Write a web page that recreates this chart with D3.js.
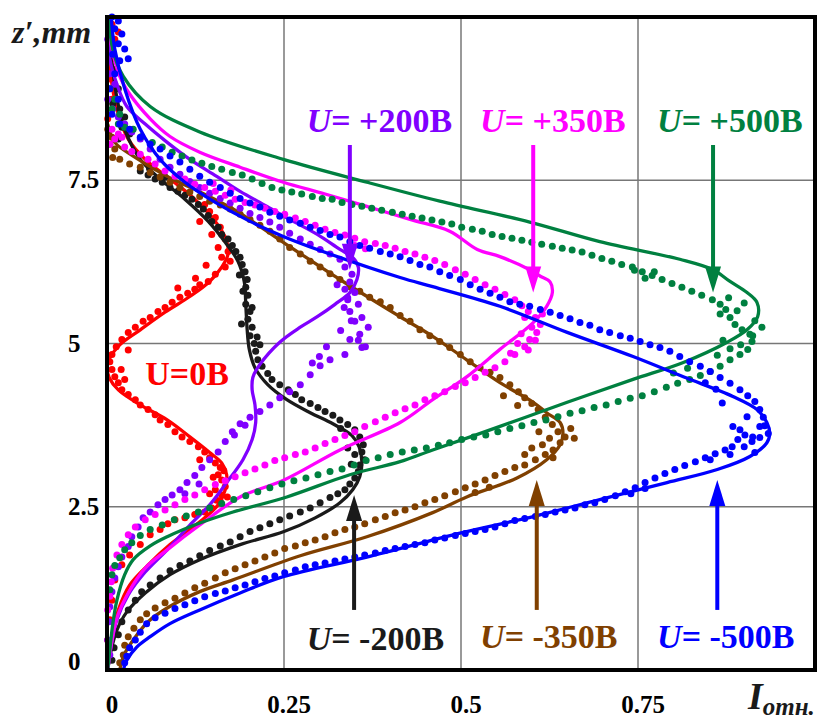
<!DOCTYPE html>
<html>
<head>
<meta charset="utf-8">
<script src="https://cdn.jsdelivr.net/npm/d3@7"></script>
<style>
  body { margin: 0; background: #fff; }
</style>
</head>
<body>
<svg width="832" height="720"></svg>
<script>
/*global d3 */

// ticks
var xTicks = [0, 0.25, 0.5, 0.75];
var xTickLabels = ["0", "0.25", "0.5", "0.75"];
var yTicks = [0, 2.5, 5, 7.5];
var yTickLabels = ["0", "2.5", "5", "7.5"];

// fitted curves, [I, z]
var redLine = [[0.001,0],[0.006,0.46],[0.016,0.92],[0.032,1.30],[0.061,1.64],[0.089,1.92],[0.117,2.15],[0.138,2.33],[0.157,2.53],[0.167,2.76],[0.169,2.99],[0.162,3.17],[0.145,3.33],[0.117,3.57],[0.085,3.83],[0.047,4.06],[0.016,4.29],[0.003,4.48],[0.0,4.63],[0.004,4.78],[0.018,4.98],[0.047,5.21],[0.082,5.48],[0.117,5.72],[0.145,5.95],[0.162,6.17],[0.171,6.37],[0.168,6.60],[0.153,6.87],[0.124,7.21],[0.089,7.52],[0.054,7.82],[0.030,8.13],[0.016,8.51],[0.007,8.97],[0.003,9.51],[0.001,9.97]];
var blackLine = [[0.001,0],[0.006,0.31],[0.014,0.61],[0.028,0.89],[0.054,1.18],[0.089,1.46],[0.131,1.69],[0.188,1.92],[0.250,2.12],[0.294,2.33],[0.329,2.56],[0.347,2.76],[0.357,2.96],[0.360,3.19],[0.356,3.42],[0.346,3.59],[0.319,3.77],[0.287,3.94],[0.254,4.14],[0.227,4.37],[0.209,4.63],[0.201,4.91],[0.198,5.21],[0.196,5.60],[0.194,5.94],[0.185,6.26],[0.167,6.55],[0.143,6.87],[0.110,7.21],[0.075,7.52],[0.047,7.82],[0.025,8.28],[0.013,8.82],[0.006,9.43],[0.003,9.97]];
var purpleLine = [[0.001,0],[0.006,0.38],[0.014,0.77],[0.030,1.15],[0.054,1.50],[0.085,1.84],[0.117,2.22],[0.145,2.53],[0.169,2.87],[0.192,3.22],[0.205,3.53],[0.210,3.79],[0.209,4.06],[0.205,4.29],[0.206,4.48],[0.216,4.68],[0.244,5.02],[0.273,5.25],[0.297,5.41],[0.322,5.60],[0.343,5.78],[0.353,5.98],[0.355,6.17],[0.347,6.32],[0.329,6.44],[0.297,6.67],[0.258,6.90],[0.226,7.10],[0.188,7.33],[0.155,7.56],[0.117,7.82],[0.085,8.08],[0.054,8.36],[0.028,8.63],[0.014,8.97],[0.004,9.36],[0.003,9.97]];
var magentaLine = [[0.001,0],[0.006,0.38],[0.014,0.80],[0.030,1.18],[0.054,1.56],[0.085,1.84],[0.131,2.22],[0.188,2.65],[0.250,2.91],[0.329,3.37],[0.414,3.79],[0.460,4.14],[0.508,4.49],[0.555,4.91],[0.602,5.32],[0.621,5.57],[0.629,5.78],[0.626,5.94],[0.612,6.03],[0.597,6.13],[0.555,6.33],[0.523,6.44],[0.484,6.72],[0.428,6.90],[0.367,7.10],[0.308,7.29],[0.249,7.47],[0.188,7.70],[0.131,7.93],[0.089,8.17],[0.061,8.44],[0.032,8.82],[0.018,9.09],[0.007,9.51],[0.001,9.97]];
var brownLine = [[0.018,0],[0.024,0.23],[0.037,0.46],[0.058,0.74],[0.085,0.95],[0.131,1.20],[0.178,1.38],[0.273,1.75],[0.367,2.04],[0.460,2.41],[0.508,2.65],[0.579,2.94],[0.621,3.22],[0.640,3.45],[0.644,3.63],[0.640,3.79],[0.621,3.94],[0.602,4.10],[0.555,4.40],[0.508,4.75],[0.460,5.11],[0.414,5.41],[0.329,5.98],[0.249,6.55],[0.178,7.06],[0.124,7.36],[0.085,7.56],[0.037,7.87],[0.011,8.08],[0.001,8.36]];
var greenLine = [[0.001,0],[0.004,0.31],[0.008,0.69],[0.014,1.07],[0.025,1.46],[0.037,1.69],[0.061,1.90],[0.085,2.04],[0.131,2.25],[0.178,2.42],[0.254,2.65],[0.343,2.99],[0.414,3.19],[0.460,3.37],[0.555,3.73],[0.650,4.10],[0.743,4.45],[0.814,4.71],[0.876,5.02],[0.904,5.21],[0.919,5.41],[0.918,5.63],[0.904,5.78],[0.880,5.95],[0.856,6.13],[0.809,6.29],[0.696,6.56],[0.597,6.86],[0.470,7.18],[0.367,7.47],[0.249,7.82],[0.131,8.24],[0.061,8.63],[0.023,9.09],[0.008,9.51],[0.003,9.97]];
var blueLine = [[0.023,0],[0.028,0.15],[0.042,0.35],[0.061,0.51],[0.089,0.71],[0.131,0.92],[0.188,1.18],[0.249,1.43],[0.367,1.73],[0.500,2.10],[0.602,2.35],[0.696,2.61],[0.791,2.87],[0.862,3.07],[0.908,3.27],[0.932,3.48],[0.936,3.63],[0.932,3.79],[0.918,3.99],[0.884,4.19],[0.814,4.49],[0.743,4.80],[0.650,5.17],[0.555,5.57],[0.460,5.87],[0.414,6.01],[0.297,6.44],[0.249,6.64],[0.202,6.87],[0.153,7.16],[0.110,7.47],[0.075,7.82],[0.047,8.28],[0.025,8.90],[0.011,9.51],[0.006,10.0]];

// measured points, [I, z]
var redDots = [[0.007,9.89],[0.011,9.66],[0.016,9.77],[0.008,9.36],[0.004,9.05],[0.007,8.74],[0.001,8.44],[0.138,7.13],[0.145,7.02],[0.153,6.93],[0.131,6.87],[0.160,6.78],[0.148,6.67],[0.167,6.60],[0.157,6.47],[0.171,6.41],[0.162,6.32],[0.174,6.26],[0.167,6.17],[0.153,6.06],[0.143,5.95],[0.131,5.90],[0.124,5.83],[0.114,5.77],[0.103,5.71],[0.092,5.63],[0.082,5.55],[0.072,5.49],[0.061,5.40],[0.051,5.34],[0.040,5.25],[0.030,5.17],[0.021,5.06],[0.013,4.95],[0.007,4.83],[0.004,4.72],[0.007,4.60],[0.011,4.49],[0.016,4.40],[0.021,4.29],[0.030,4.22],[0.040,4.14],[0.047,4.06],[0.058,3.99],[0.068,3.91],[0.075,3.83],[0.086,3.76],[0.096,3.65],[0.106,3.57],[0.117,3.50],[0.129,3.42],[0.138,3.34],[0.145,3.25],[0.131,3.22],[0.153,3.17],[0.160,3.10],[0.157,2.99],[0.162,2.91],[0.167,2.81],[0.153,2.76],[0.162,2.68],[0.160,2.58],[0.148,2.48],[0.138,2.42],[0.124,2.38],[0.110,2.33],[0.096,2.30],[0.086,2.24],[0.075,2.15],[0.061,2.07],[0.047,1.92],[0.032,1.76],[0.021,1.61],[0.011,1.38],[0.007,1.07],[0.004,0.77],[0.001,0.46],
  [0.150,2.95],[0.165,3.05],[0.170,2.65],[0.155,2.60],[0.145,2.70],[0.020,4.60],[0.025,4.45],[0.030,4.90],[0.140,6.20],[0.125,6.00],[0.100,5.85]];
var blackDots = [[0.004,9.82],[0.007,9.59],[0.011,9.20],[0.016,8.90],[0.008,8.67],[0.018,8.59],[0.025,8.47],[0.021,8.31],[0.032,8.21],[0.016,8.13],[0.047,7.64],[0.058,7.58],[0.068,7.52],[0.078,7.47],[0.089,7.39],[0.100,7.33],[0.110,7.27],[0.120,7.21],[0.129,7.13],[0.136,7.06],[0.143,6.96],[0.148,6.87],[0.157,6.78],[0.162,6.67],[0.171,6.60],[0.177,6.50],[0.182,6.41],[0.188,6.32],[0.191,6.21],[0.195,6.10],[0.198,5.98],[0.196,5.86],[0.199,5.74],[0.196,5.60],[0.202,5.49],[0.199,5.37],[0.205,5.25],[0.202,5.12],[0.208,5.00],[0.210,4.88],[0.213,4.75],[0.219,4.65],[0.227,4.54],[0.233,4.45],[0.244,4.37],[0.256,4.29],[0.266,4.22],[0.275,4.14],[0.287,4.08],[0.298,4.02],[0.308,3.96],[0.319,3.90],[0.329,3.83],[0.340,3.76],[0.350,3.68],[0.357,3.57],[0.362,3.45],[0.360,3.34],[0.364,3.22],[0.357,3.14],[0.355,3.04],[0.350,2.94],[0.343,2.85],[0.336,2.76],[0.326,2.70],[0.315,2.64],[0.301,2.56],[0.287,2.48],[0.273,2.42],[0.258,2.36],[0.244,2.30],[0.230,2.24],[0.216,2.18],[0.202,2.12],[0.188,2.04],[0.174,1.96],[0.160,1.90],[0.145,1.83],[0.131,1.75],[0.117,1.67],[0.103,1.60],[0.089,1.52],[0.075,1.41],[0.061,1.30],[0.049,1.20],[0.040,1.07],[0.030,0.92],[0.021,0.74],[0.016,0.54],[0.010,0.34],[0.007,0.15],
  [0.190,5.30],[0.205,5.55],[0.192,5.80],[0.212,5.10],[0.216,4.98],[0.187,6.05],[0.340,3.40],[0.350,3.30],[0.345,3.15],[0.330,3.70],[0.060,7.68],[0.082,7.55]];
var purpleDots = [[0.001,9.66],[0.007,9.43],[0.004,9.13],[0.011,8.97],[0.001,8.74],[0.008,8.59],[0.016,8.47],[0.025,8.36],[0.035,8.24],[0.047,8.13],[0.061,7.98],[0.075,7.82],[0.089,7.70],[0.103,7.59],[0.117,7.48],[0.131,7.39],[0.145,7.30],[0.160,7.22],[0.174,7.15],[0.188,7.07],[0.202,6.99],[0.216,6.93],[0.230,6.86],[0.244,6.78],[0.258,6.69],[0.273,6.60],[0.287,6.52],[0.301,6.44],[0.315,6.37],[0.329,6.29],[0.336,6.17],[0.346,6.06],[0.343,5.94],[0.336,5.83],[0.350,5.78],[0.340,5.67],[0.355,5.60],[0.343,5.49],[0.360,5.40],[0.350,5.34],[0.369,5.25],[0.357,5.14],[0.343,5.06],[0.360,4.94],[0.336,4.83],[0.315,4.75],[0.301,4.66],[0.287,4.52],[0.273,4.37],[0.258,4.26],[0.244,4.17],[0.230,4.06],[0.216,3.96],[0.202,3.87],[0.188,3.77],[0.177,3.65],[0.167,3.50],[0.157,3.34],[0.145,3.22],[0.134,3.10],[0.124,2.98],[0.113,2.87],[0.103,2.76],[0.092,2.68],[0.082,2.61],[0.072,2.53],[0.061,2.42],[0.051,2.33],[0.044,2.19],[0.035,2.04],[0.030,1.89],[0.021,1.73],[0.016,1.58],[0.011,1.41],[0.007,1.20],[0.004,0.97],[0.003,0.74],[0.001,0.46],[0.004,0.23],
  [0.335,5.55],[0.345,5.35],[0.330,5.20],[0.355,5.05],[0.365,4.95],[0.340,5.70],[0.325,5.90],[0.300,4.80],[0.310,4.95],[0.290,4.70],[0.180,3.60],[0.195,3.75],[0.130,2.85],[0.110,2.70]];
var magentaDots = [[0.007,8.28],[0.016,8.21],[0.011,8.13],[0.021,8.16],[0.004,8.05],[0.025,8.01],[0.035,7.94],[0.047,7.90],[0.058,7.82],[0.068,7.75],[0.082,7.64],[0.096,7.56],[0.110,7.52],[0.124,7.44],[0.138,7.39],[0.153,7.33],[0.167,7.27],[0.181,7.21],[0.195,7.16],[0.209,7.12],[0.223,7.07],[0.237,7.02],[0.251,6.98],[0.266,6.92],[0.280,6.87],[0.294,6.81],[0.308,6.75],[0.322,6.70],[0.336,6.66],[0.350,6.61],[0.364,6.56],[0.379,6.53],[0.393,6.50],[0.407,6.46],[0.421,6.41],[0.435,6.37],[0.449,6.32],[0.463,6.27],[0.477,6.21],[0.492,6.13],[0.506,6.06],[0.520,5.98],[0.534,5.90],[0.548,5.83],[0.562,5.75],[0.576,5.67],[0.586,5.58],[0.595,5.49],[0.605,5.40],[0.612,5.29],[0.607,5.17],[0.597,5.06],[0.590,4.95],[0.576,4.83],[0.562,4.72],[0.548,4.63],[0.534,4.56],[0.520,4.48],[0.506,4.40],[0.492,4.34],[0.477,4.26],[0.463,4.20],[0.449,4.14],[0.435,4.06],[0.421,4.00],[0.407,3.94],[0.393,3.87],[0.379,3.80],[0.364,3.73],[0.350,3.65],[0.336,3.59],[0.322,3.53],[0.308,3.47],[0.294,3.40],[0.280,3.34],[0.266,3.30],[0.251,3.25],[0.237,3.21],[0.223,3.14],[0.209,3.08],[0.195,3.02],[0.181,2.96],[0.167,2.90],[0.153,2.84],[0.138,2.76],[0.124,2.68],[0.110,2.61],[0.096,2.53],[0.082,2.45],[0.068,2.38],[0.054,2.30],[0.040,2.19],[0.030,2.07],[0.021,1.92],[0.014,1.76],[0.008,1.56],[0.006,1.35],[0.004,1.13],[0.001,0.92],
  [0.590,5.40],[0.600,5.25],[0.585,5.15],[0.605,5.05],[0.595,4.90],[0.580,5.00],[0.615,5.45],[0.570,4.85],[0.350,6.50],[0.365,6.45],[0.150,7.45],[0.175,7.35]];
var brownDots = [[0.001,8.28],[0.007,8.16],[0.004,8.05],[0.011,7.98],[0.008,7.85],[0.018,7.82],[0.032,7.75],[0.047,7.70],[0.061,7.62],[0.075,7.55],[0.089,7.47],[0.103,7.39],[0.117,7.32],[0.131,7.25],[0.145,7.18],[0.160,7.12],[0.174,7.06],[0.188,6.98],[0.202,6.90],[0.216,6.81],[0.230,6.72],[0.244,6.60],[0.258,6.47],[0.273,6.37],[0.287,6.26],[0.301,6.17],[0.315,6.07],[0.329,5.98],[0.343,5.87],[0.357,5.80],[0.371,5.71],[0.386,5.64],[0.400,5.55],[0.414,5.43],[0.428,5.34],[0.442,5.21],[0.456,5.12],[0.470,5.03],[0.484,4.94],[0.499,4.83],[0.513,4.72],[0.527,4.63],[0.541,4.56],[0.555,4.48],[0.569,4.37],[0.581,4.26],[0.590,4.17],[0.600,4.08],[0.609,3.99],[0.619,3.87],[0.629,3.76],[0.637,3.65],[0.647,3.57],[0.640,3.48],[0.630,3.37],[0.619,3.30],[0.605,3.22],[0.590,3.14],[0.576,3.10],[0.562,3.04],[0.548,2.98],[0.534,2.91],[0.520,2.85],[0.506,2.79],[0.492,2.73],[0.477,2.67],[0.463,2.61],[0.449,2.56],[0.435,2.50],[0.421,2.45],[0.407,2.41],[0.393,2.35],[0.379,2.30],[0.364,2.24],[0.350,2.19],[0.336,2.15],[0.322,2.10],[0.308,2.04],[0.294,1.99],[0.280,1.95],[0.266,1.90],[0.251,1.86],[0.237,1.79],[0.223,1.73],[0.209,1.67],[0.195,1.61],[0.181,1.55],[0.167,1.49],[0.153,1.41],[0.138,1.33],[0.124,1.26],[0.110,1.18],[0.096,1.10],[0.082,1.03],[0.068,0.95],[0.056,0.86],[0.047,0.77],[0.038,0.64],[0.030,0.51],[0.025,0.38],[0.023,0.23],[0.018,0.11],
  [0.625,3.55],[0.615,3.45],[0.600,3.40],[0.610,3.65],[0.630,3.25],[0.590,3.30],[0.655,3.70],[0.660,3.55],[0.580,4.05],[0.560,4.20],[0.540,2.80],[0.520,2.72]];
var greenDots = [[0.004,8.90],[0.011,8.74],[0.007,8.59],[0.018,8.51],[0.016,8.36],[0.025,8.31],[0.037,8.28],[0.049,8.17],[0.064,8.08],[0.078,8.01],[0.092,7.93],[0.106,7.87],[0.120,7.81],[0.134,7.76],[0.148,7.71],[0.162,7.67],[0.177,7.62],[0.191,7.58],[0.205,7.52],[0.219,7.45],[0.233,7.39],[0.247,7.35],[0.261,7.32],[0.275,7.29],[0.290,7.25],[0.304,7.22],[0.318,7.21],[0.332,7.16],[0.346,7.13],[0.360,7.10],[0.374,7.07],[0.388,7.04],[0.403,7.01],[0.417,6.98],[0.431,6.95],[0.445,6.92],[0.459,6.89],[0.473,6.86],[0.487,6.83],[0.501,6.78],[0.516,6.75],[0.530,6.72],[0.544,6.67],[0.558,6.64],[0.572,6.61],[0.586,6.58],[0.600,6.55],[0.614,6.52],[0.629,6.49],[0.643,6.46],[0.657,6.43],[0.671,6.40],[0.685,6.35],[0.699,6.30],[0.713,6.26],[0.727,6.21],[0.742,6.17],[0.756,6.10],[0.770,6.04],[0.784,5.98],[0.798,5.92],[0.812,5.86],[0.826,5.80],[0.840,5.74],[0.855,5.67],[0.866,5.60],[0.874,5.52],[0.880,5.40],[0.887,5.29],[0.897,5.21],[0.908,5.14],[0.911,5.03],[0.905,4.91],[0.894,4.83],[0.880,4.75],[0.866,4.65],[0.852,4.57],[0.838,4.51],[0.823,4.45],[0.806,4.39],[0.790,4.33],[0.773,4.26],[0.756,4.20],[0.739,4.16],[0.722,4.11],[0.705,4.06],[0.688,4.02],[0.671,3.97],[0.654,3.93],[0.637,3.88],[0.620,3.83],[0.603,3.79],[0.586,3.74],[0.569,3.70],[0.552,3.65],[0.535,3.60],[0.518,3.57],[0.501,3.53],[0.484,3.48],[0.468,3.44],[0.451,3.40],[0.434,3.37],[0.417,3.34],[0.400,3.30],[0.383,3.25],[0.366,3.21],[0.349,3.14],[0.332,3.08],[0.315,3.04],[0.298,2.99],[0.281,2.94],[0.264,2.90],[0.247,2.85],[0.230,2.79],[0.213,2.73],[0.196,2.67],[0.179,2.61],[0.162,2.55],[0.145,2.48],[0.129,2.42],[0.112,2.36],[0.095,2.30],[0.078,2.22],[0.061,2.15],[0.047,2.06],[0.035,1.95],[0.025,1.84],[0.018,1.72],[0.011,1.60],[0.007,1.46],[0.004,1.23],
  [0.866,5.45],[0.878,5.70],[0.890,5.50],[0.900,5.62],[0.915,5.35],[0.925,5.25],[0.912,5.12],[0.895,4.98],[0.880,4.92],[0.862,4.82],[0.870,5.05],[0.745,6.12],[0.760,6.00],[0.773,6.10],[0.820,4.62],[0.800,4.55]];
var blueDots = [[0.007,10.0],[0.016,9.94],[0.011,9.82],[0.021,9.74],[0.016,9.59],[0.025,9.51],[0.008,9.43],[0.018,9.33],[0.030,9.36],[0.011,9.13],[0.004,8.90],[0.016,8.74],[0.007,8.51],[0.018,8.36],[0.032,8.28],[0.047,8.16],[0.061,8.05],[0.075,7.98],[0.089,7.87],[0.103,7.78],[0.117,7.67],[0.131,7.56],[0.145,7.47],[0.160,7.39],[0.174,7.30],[0.188,7.22],[0.202,7.15],[0.216,7.09],[0.230,7.01],[0.244,6.95],[0.258,6.89],[0.273,6.84],[0.287,6.78],[0.301,6.73],[0.315,6.67],[0.329,6.63],[0.343,6.56],[0.357,6.50],[0.371,6.46],[0.386,6.41],[0.400,6.37],[0.414,6.33],[0.428,6.27],[0.442,6.21],[0.456,6.17],[0.470,6.10],[0.484,6.04],[0.499,5.98],[0.513,5.90],[0.527,5.83],[0.541,5.77],[0.555,5.71],[0.569,5.64],[0.583,5.60],[0.597,5.57],[0.612,5.52],[0.626,5.48],[0.640,5.43],[0.654,5.38],[0.668,5.32],[0.682,5.28],[0.696,5.21],[0.710,5.17],[0.725,5.12],[0.739,5.08],[0.753,5.03],[0.767,4.98],[0.781,4.94],[0.795,4.88],[0.809,4.80],[0.823,4.72],[0.838,4.65],[0.852,4.57],[0.866,4.48],[0.880,4.39],[0.894,4.29],[0.905,4.20],[0.915,4.11],[0.922,3.99],[0.927,3.87],[0.929,3.74],[0.934,3.62],[0.922,3.56],[0.911,3.50],[0.901,3.60],[0.891,3.53],[0.883,3.42],[0.873,3.37],[0.859,3.31],[0.845,3.25],[0.831,3.19],[0.816,3.13],[0.802,3.07],[0.788,3.01],[0.774,2.94],[0.760,2.87],[0.746,2.79],[0.732,2.73],[0.718,2.67],[0.703,2.61],[0.689,2.56],[0.675,2.53],[0.661,2.48],[0.647,2.45],[0.633,2.42],[0.619,2.38],[0.605,2.35],[0.590,2.32],[0.576,2.29],[0.562,2.24],[0.548,2.19],[0.534,2.15],[0.520,2.12],[0.506,2.09],[0.492,2.06],[0.477,2.02],[0.463,1.99],[0.449,1.95],[0.435,1.92],[0.421,1.89],[0.407,1.86],[0.393,1.83],[0.379,1.79],[0.364,1.76],[0.350,1.73],[0.336,1.70],[0.322,1.67],[0.308,1.64],[0.294,1.61],[0.280,1.58],[0.266,1.53],[0.251,1.49],[0.237,1.44],[0.223,1.40],[0.209,1.35],[0.195,1.30],[0.181,1.26],[0.167,1.21],[0.153,1.17],[0.138,1.12],[0.124,1.06],[0.110,1.00],[0.096,0.94],[0.082,0.87],[0.068,0.80],[0.056,0.71],[0.047,0.58],[0.040,0.46],[0.032,0.34],[0.028,0.21],[0.025,0.11],
  [0.869,4.09],[0.884,3.73],[0.894,3.68],[0.904,3.88],[0.912,3.57],[0.922,3.73],[0.880,3.30],[0.852,3.22],[0.900,3.42],[0.915,3.33],[0.860,4.30],[0.845,4.40],[0.760,2.78],[0.740,2.70]];

var series = [
  { color: "#ff0000", line: redLine, dots: redDots },
  { color: "#1a1a1a", line: blackLine, dots: blackDots },
  { color: "#804000", line: brownLine, dots: brownDots },
  { color: "#8000ff", line: purpleLine, dots: purpleDots },
  { color: "#ff00ff", line: magentaLine, dots: magentaDots },
  { color: "#008040", line: greenLine, dots: greenDots },
  { color: "#0000ff", line: blueLine, dots: blueDots }
];

// annotations: label text start / baseline and arrows, in data units
var labels = [
  { sign: "+200B", color: "#8000ff", I: 0.282, z: 8.24, italicU: true },
  { sign: "+350B", color: "#ff00ff", I: 0.527, z: 8.24, italicU: true },
  { sign: "+500B", color: "#008040", I: 0.777, z: 8.24, italicU: true },
  { sign: "-200B", color: "#1a1a1a", I: 0.282, z: 0.31, italicU: true },
  { sign: "-350B", color: "#804000", I: 0.527, z: 0.34, italicU: true },
  { sign: "-500B", color: "#0000ff", I: 0.777, z: 0.34, italicU: true },
  { sign: "0B", color: "#ff0000", I: 0.054, z: 4.37, italicU: false }
];
var arrows = [
  { color: "#8000ff", I: 0.343, from: 8.04, to: 6.13 },
  { color: "#ff00ff", I: 0.602, from: 8.04, to: 5.78 },
  { color: "#008040", I: 0.856, from: 8.04, to: 5.78 },
  { color: "#1a1a1a", I: 0.349, from: 0.92, to: 2.68 },
  { color: "#804000", I: 0.607, from: 0.92, to: 2.91 },
  { color: "#0000ff", I: 0.862, from: 0.92, to: 2.91 }
];

var serif = "'Liberation Serif', 'DejaVu Serif', serif";

var svg = d3.select("svg")
  .attr("font-family", serif)
  .attr("font-weight", "bold");
svg.append("rect").attr("width", 832).attr("height", 720).attr("fill", "#fff");

var x = d3.scaleLinear().domain([0, 1]).range([107, 815]);
var y = d3.scaleLinear().domain([0, 10]).range([670, 17]);

// grid
svg.append("g")
  .selectAll("line")
  .data(xTicks.slice(1))
  .enter().append("line")
  .attr("x1", function(d) { return x(d); })
  .attr("x2", function(d) { return x(d); })
  .attr("y1", y(0))
  .attr("y2", y(10))
  .attr("stroke", "#555")
  .attr("stroke-width", 1.2);

svg.append("g")
  .selectAll("line")
  .data(yTicks.slice(1))
  .enter().append("line")
  .attr("x1", x(0))
  .attr("x2", x(1))
  .attr("y1", function(d) { return y(d); })
  .attr("y2", function(d) { return y(d); })
  .attr("stroke", "#777")
  .attr("stroke-width", 1.5);

// tick labels
svg.append("g")
  .selectAll("text")
  .data(xTicks)
  .enter().append("text")
  .attr("x", function(d) { return x(d) + 5; })
  .attr("y", 713)
  .attr("text-anchor", "middle")
  .attr("font-family", serif)
  .attr("font-weight", "bold")
  .attr("font-size", 25)
  .text(function(d, i) { return xTickLabels[i]; });

svg.append("g")
  .selectAll("text")
  .data(yTicks)
  .enter().append("text")
  .attr("x", 68)
  .attr("y", function(d) { return Math.min(y(d) + 8, y(0)); })
  .attr("font-family", serif)
  .attr("font-weight", "bold")
  .attr("font-size", 25)
  .text(function(d, i) { return yTickLabels[i]; });

// data
var line = d3.line()
  .x(function(d) { return x(d[0]); })
  .y(function(d) { return y(d[1]); })
  .curve(d3.curveCatmullRom.alpha(0.5));

var plot = svg.append("g");

series.forEach(function(s) {
  plot.append("g")
    .selectAll("circle")
    .data(s.dots)
    .enter().append("circle")
    .attr("cx", function(d) { return x(d[0]); })
    .attr("cy", function(d) { return y(d[1]); })
    .attr("r", 3.5)
    .attr("fill", s.color);

  plot.append("path")
    .datum(s.line)
    .attr("d", line)
    .attr("fill", "none")
    .attr("stroke", s.color)
    .attr("stroke-width", 3.3);
});

// arrows
var arrow = svg.append("g")
  .selectAll("g")
  .data(arrows)
  .enter().append("g");

arrow.append("line")
  .attr("x1", function(d) { return x(d.I); })
  .attr("x2", function(d) { return x(d.I); })
  .attr("y1", function(d) { return y(d.from); })
  .attr("y2", function(d) { var dir = d.to > d.from ? 1 : -1; return y(d.to) + dir * 20; })
  .attr("stroke", function(d) { return d.color; })
  .attr("stroke-width", 4);

arrow.append("path")
  .attr("d", function(d) {
    var tx = x(d.I), ty = y(d.to), dir = d.to > d.from ? 1 : -1;
    return "M" + tx + "," + ty + "L" + (tx - 8) + "," + (ty + dir * 26) + "L" + (tx + 8) + "," + (ty + dir * 26) + "Z";
  })
  .attr("fill", function(d) { return d.color; });

// frame
svg.append("rect")
  .attr("x", x(0))
  .attr("y", y(10))
  .attr("width", x(1) - x(0))
  .attr("height", y(0) - y(10))
  .attr("fill", "none")
  .attr("stroke", "#000")
  .attr("stroke-width", 4);

// labels
var lab = svg.append("g")
  .selectAll("text")
  .data(labels)
  .enter().append("text")
  .attr("x", function(d) { return x(d.I); })
  .attr("y", function(d) { return y(d.z); })
  .attr("font-family", serif)
  .attr("font-weight", "bold")
  .attr("font-size", 34)
  .attr("fill", function(d) { return d.color; });

lab.append("tspan")
  .attr("font-style", function(d) { return d.italicU ? "italic" : "normal"; })
  .text("U");
lab.append("tspan")
  .text(function(d) { return d.italicU ? "= " + d.sign : "=" + d.sign; });

// axis titles
svg.append("text")
  .attr("x", 12)
  .attr("y", 43)
  .attr("font-family", serif)
  .attr("font-weight", "bold")
  .attr("font-size", 32)
  .attr("font-style", "italic")
  .attr("fill", "#1a1a1a")
  .text("z\u2032,mm");

var xt = svg.append("text")
  .attr("x", 748)
  .attr("y", 709)
  .attr("font-family", serif)
  .attr("font-weight", "bold")
  .attr("font-style", "italic")
  .attr("fill", "#1a1a1a");
xt.append("tspan").attr("font-size", 38).text("I");
xt.append("tspan").attr("font-size", 25).attr("dy", 6).text("отн.");
</script>
</body>
</html>
